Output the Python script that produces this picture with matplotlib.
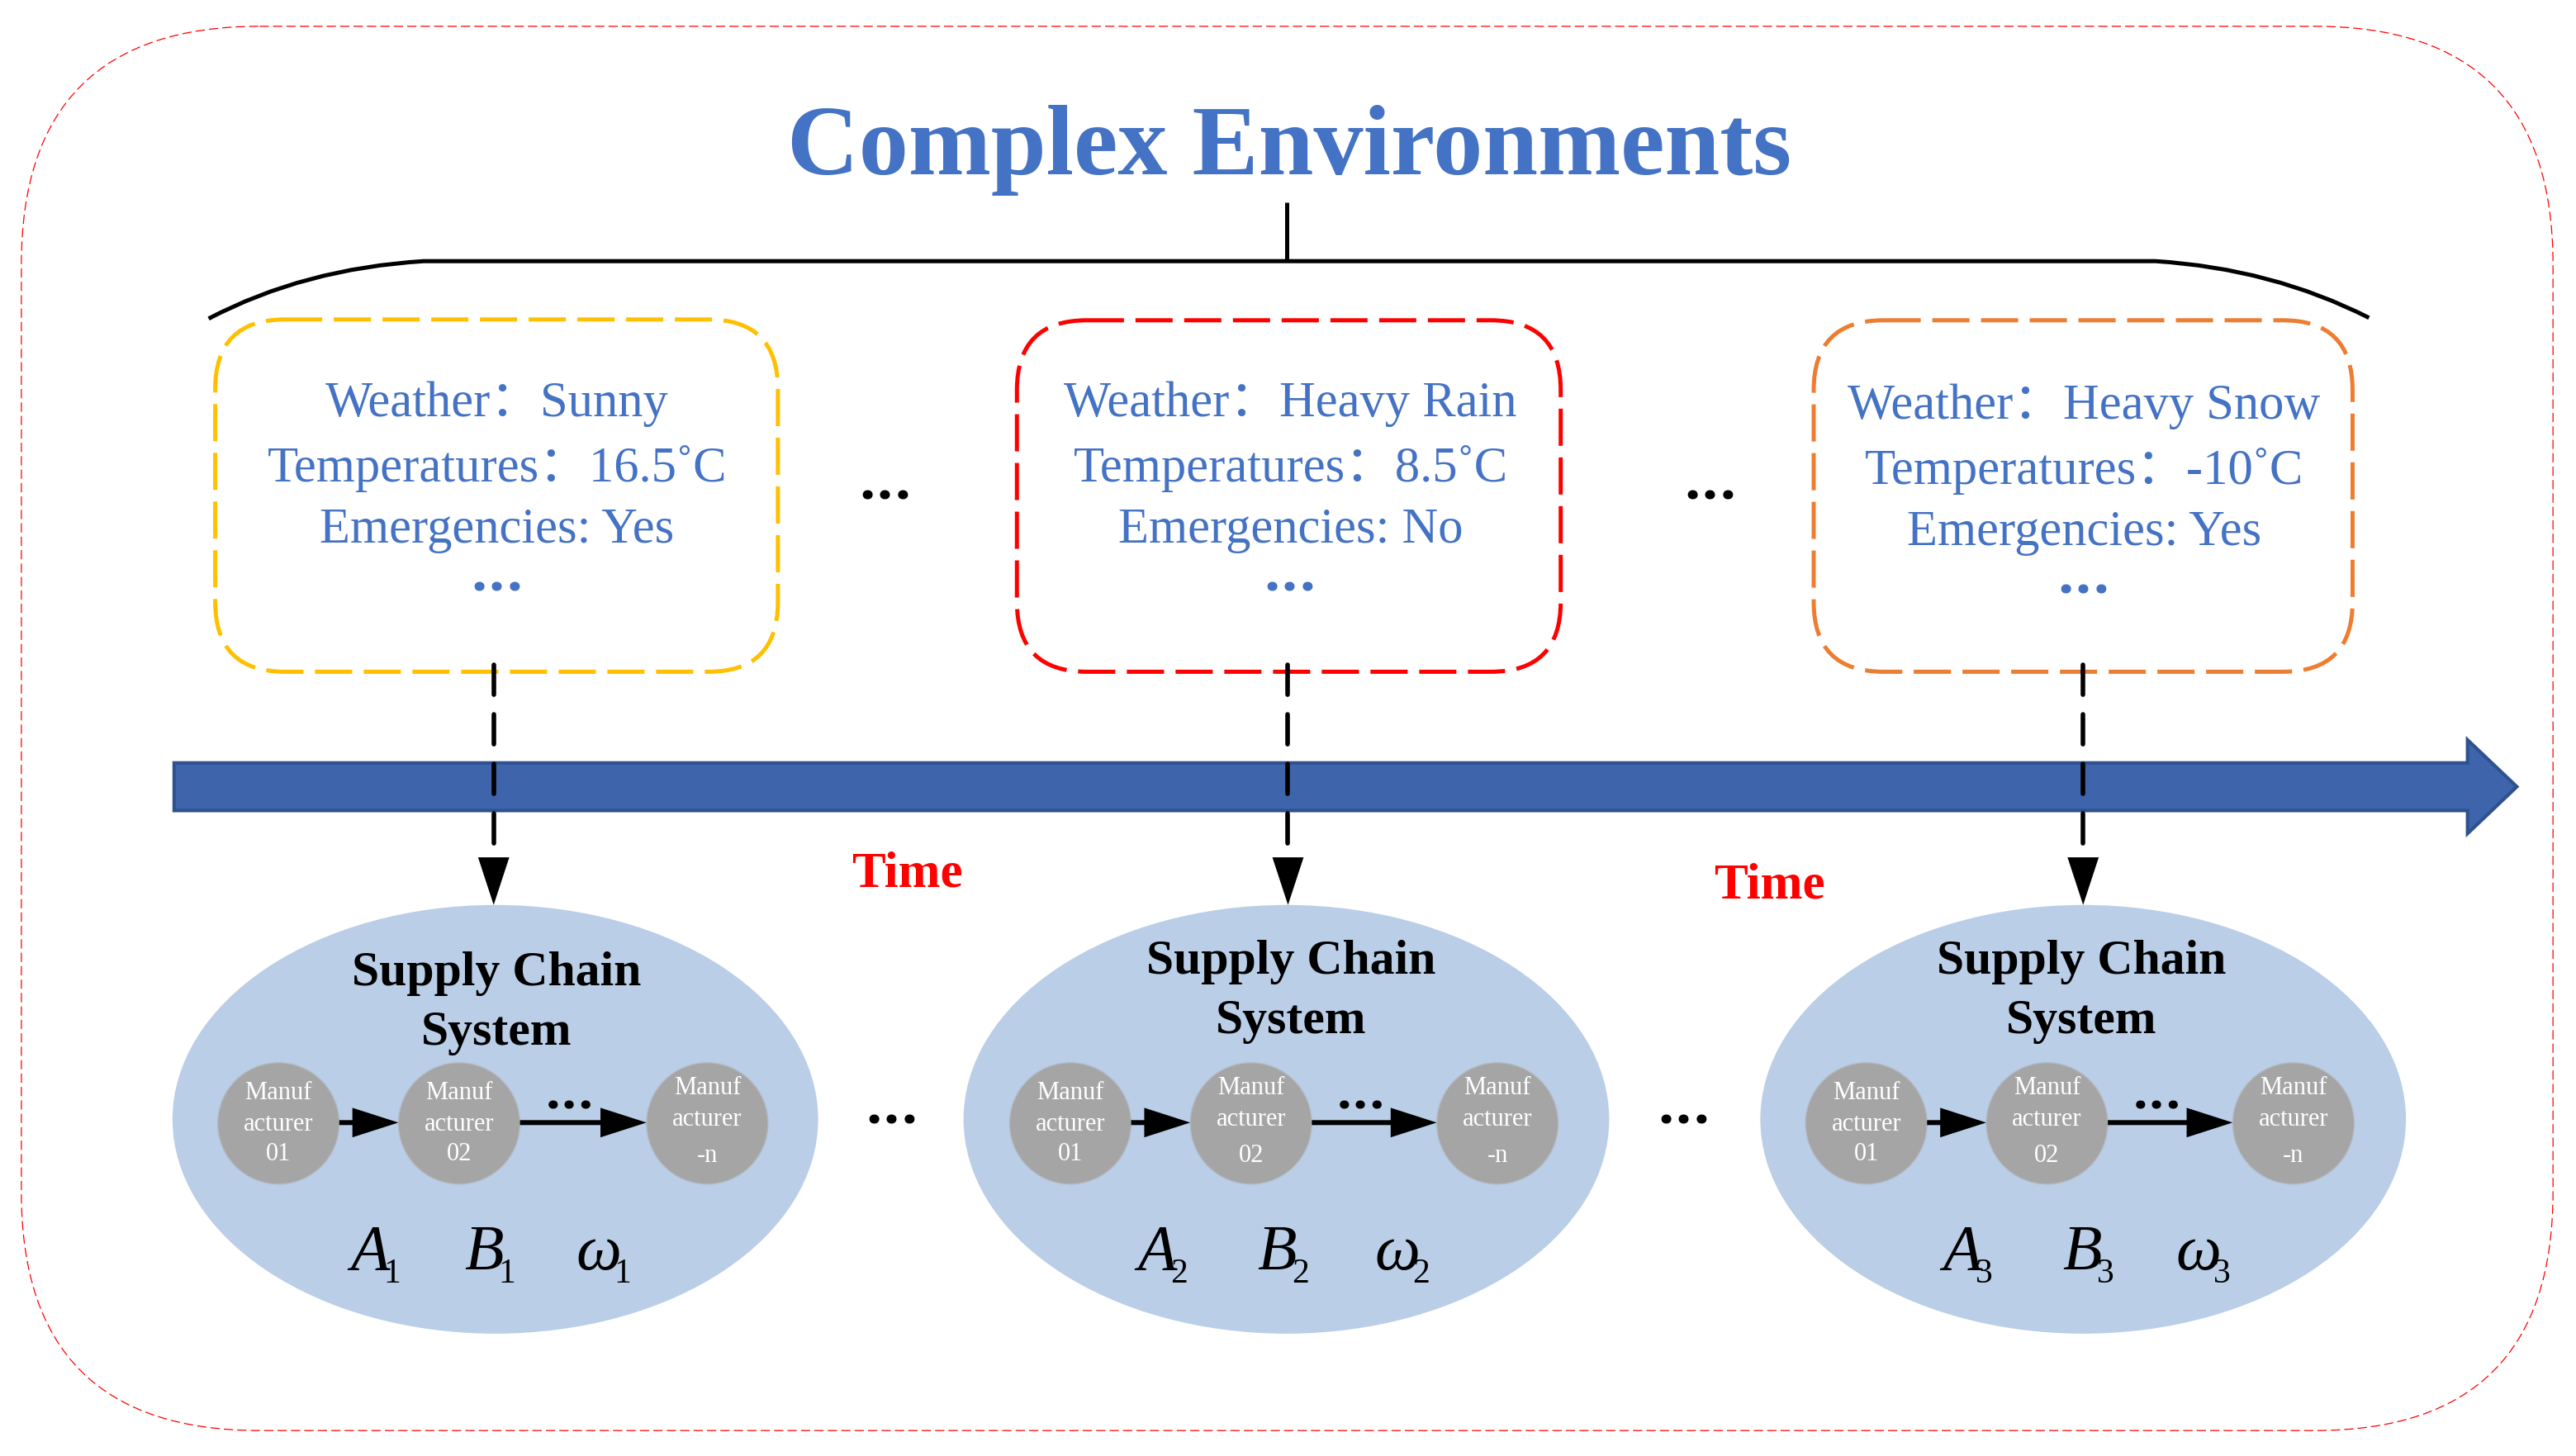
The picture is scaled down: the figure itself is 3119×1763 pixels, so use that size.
"""Diagram of supply chain systems changing with complex environments."""

import matplotlib
matplotlib.use('Agg')
import matplotlib.pyplot as plt
from matplotlib.patches import Ellipse, FancyArrow, FancyBboxPatch, PathPatch, Polygon
from matplotlib.path import Path

SERIF = ['Liberation Serif', 'Noto Sans CJK SC']
BLUE = '#4472C4'

TITLE = 'Complex Environments'
WEATHER = ['Weather：Sunny', 'Weather：Heavy Rain', 'Weather：Heavy Snow']
TEMPERATURES = ['Temperatures：16.5˚C', 'Temperatures：8.5˚C', 'Temperatures：-10˚C']
EMERGENCIES = ['Emergencies: Yes', 'Emergencies: No', 'Emergencies: Yes']
SYMBOLS = ['A', 'B', 'ω']
SUBSCRIPTS = ['1', '2', '3']
MANUFACTURERS = ['01', '02', '-n']
TIME_LABEL = 'Time'

# Layout, in drawing units of the axes
BOX_LEFT = [262, 1238, 2208]
BOX_RIGHT = [947, 1900, 2864]
BOX_TOP = [389, 390, 390]
BOX_BOTTOM = [818, 818, 818]
BOX_COLOURS = ['#FFC000', '#FF0000', '#ED7D31']
BOX_TEXT_X = [605, 1571, 2537]
BOX_BASELINE = [507, 507, 510]
LINK_X = [601, 1568, 2536]
ELLIPSE_X = [603, 1566, 2536]
HEADING_Y = [1175, 1161, 1161]
HEADING_X = [604, 1572, 2534]
CIRCLE_X = [[339, 559, 861], [1303, 1523, 1823], [2272, 2492, 2792]]
SYMBOL_X = [[427, 565, 701], [1385, 1531, 1673], [2365, 2511, 2649]]
SUBSCRIPT_OFFSET = [40, 42, 46]


def __text(ax, x, y, string, size, colour='black', weight='normal',
           style='normal', va='baseline'):
    """Write centred serif text."""
    ax.text(x, y, string, fontsize=size, color=colour, fontweight=weight,
            fontstyle=style, family=SERIF, ha='center', va=va)


def __dots(ax, x, y, size, colour='black'):
    """Write an ellipsis with square full stops."""
    ax.text(x, y, '...', fontsize=size, color=colour, fontweight='bold',
            family='Roboto', ha='center', va='baseline')


def __frame(ax):
    """Draw outer dashed frame, title and the brace under it."""
    ax.add_patch(FancyBboxPatch((26, 32), 3082, 1710,
                                boxstyle='round,pad=0,rounding_size=290',
                                fc='white', ec='#FF0000', lw=0.9,
                                ls=(0, (9, 4))))
    __text(ax, 1570, 212, TITLE, 86.5, BLUE, 'bold')

    brace = [(254, 388), (370, 327), (516, 318), (2624, 318),
             (2766, 327), (2884, 387)]
    codes = [Path.MOVETO, Path.CURVE3, Path.CURVE3, Path.LINETO,
             Path.CURVE3, Path.CURVE3]
    ax.add_patch(PathPatch(Path(brace, codes), fc='none', ec='black', lw=3.6))
    ax.plot([1566, 1566], [246, 318], color='black', lw=3.6,
            solid_capstyle='butt')


def __timeline(ax):
    """Draw the time arrow and its labels."""
    ax.add_patch(FancyArrow(212, 958, 2852, 0, width=58, head_width=114,
                            head_length=60, length_includes_head=True,
                            fc='#3E64AB', ec='#2F528F', lw=3))
    __text(ax, 1104, 1080, TIME_LABEL, 44, '#FF0000', 'bold')
    __text(ax, 2154, 1094, TIME_LABEL, 44, '#FF0000', 'bold')


def __condition_box(ax, i):
    """Draw one dashed box with the conditions at that time."""
    ax.add_patch(FancyBboxPatch((BOX_LEFT[i], BOX_TOP[i]),
                                BOX_RIGHT[i] - BOX_LEFT[i],
                                BOX_BOTTOM[i] - BOX_TOP[i],
                                boxstyle='round,pad=0,rounding_size=85',
                                fc='none', ec=BOX_COLOURS[i], lw=3.6,
                                ls=(0, (9, 2.8))))
    base = BOX_BASELINE[i]
    __text(ax, BOX_TEXT_X[i], base, WEATHER[i], 43.7, BLUE)
    __text(ax, BOX_TEXT_X[i], base + 79, TEMPERATURES[i], 43.7, BLUE)
    __text(ax, BOX_TEXT_X[i], base + 154, EMERGENCIES[i], 43.7, BLUE)
    __dots(ax, BOX_TEXT_X[i], base + 213, 54, BLUE)


def __link(ax, i):
    """Draw the dashed arrow from a box down to its supply chain."""
    x = LINK_X[i]
    ax.plot([x, x], [BOX_BOTTOM[i] - 8, 1042], color='black', lw=4,
            dashes=(6.5, 4.3), dash_capstyle='round')
    ax.add_patch(Polygon([(x - 19, 1044), (x + 19, 1044), (x, 1102)],
                         fc='black', ec='none'))


def __manufacturer(ax, x, label, lines_y):
    """Draw one grey manufacturer node."""
    ax.add_patch(Ellipse((x, 1368), 148, 148, fc='#A5A5A5', ec='#B4BCC6',
                         lw=1))
    for string, y in zip(['Manuf', 'acturer', label], lines_y):
        __text(ax, x, y, string, 22, 'white', va='center')


def __system(ax, i):
    """Draw one supply chain system ellipse."""
    ax.add_patch(Ellipse((ELLIPSE_X[i], 1363), 786, 522, fc='#BACEE7',
                         ec='none'))
    __text(ax, HEADING_X[i], HEADING_Y[i] + 11, 'Supply Chain', 43,
           weight='bold', va='center')
    __text(ax, HEADING_X[i], HEADING_Y[i] + 83, 'System', 43, weight='bold',
           va='center')

    first, second, last = CIRCLE_X[i]
    if i == 0:
        middle_y = [1331, 1369, 1405]
    else:
        middle_y = [1325, 1363, 1407]
    __manufacturer(ax, first, MANUFACTURERS[0], [1331, 1369, 1405])
    __manufacturer(ax, second, MANUFACTURERS[1], middle_y)
    __manufacturer(ax, last, MANUFACTURERS[2], [1325, 1363, 1407])

    for start, end in [(first + 74, second - 74), (second + 74, last - 74)]:
        ax.add_patch(FancyArrow(start, 1367, end - start, 0, width=6,
                                head_width=36, head_length=56,
                                length_includes_head=True, fc='black',
                                ec='none'))
    __dots(ax, (second + last) / 2 - 16, 1350, 50)

    for symbol, x, offset in zip(SYMBOLS, SYMBOL_X[i], SUBSCRIPT_OFFSET):
        ax.text(x, 1546, symbol, fontsize=56, fontstyle='italic', family=SERIF,
                ha='left', va='baseline', color='black')
        ax.text(x + offset, 1562, SUBSCRIPTS[i], fontsize=30, family=SERIF,
                ha='left', va='baseline', color='black')


def main():
    """Draw the whole diagram and save it."""
    fig = plt.figure(figsize=(31.19, 17.63), dpi=100)
    ax = fig.add_axes([0, 0, 1, 1])
    ax.set_xlim(0, 3136)
    ax.set_ylim(1773, 0)
    ax.axis('off')

    __frame(ax)
    __timeline(ax)
    for i in range(3):
        __condition_box(ax, i)
        __system(ax, i)
        __link(ax, i)

    # Ellipses between the columns
    for x, y in [(1078, 608), (2082, 608), (1086, 1368), (2050, 1368)]:
        __dots(ax, x, y, 54)

    fig.savefig('out.png', dpi=100)


main()
